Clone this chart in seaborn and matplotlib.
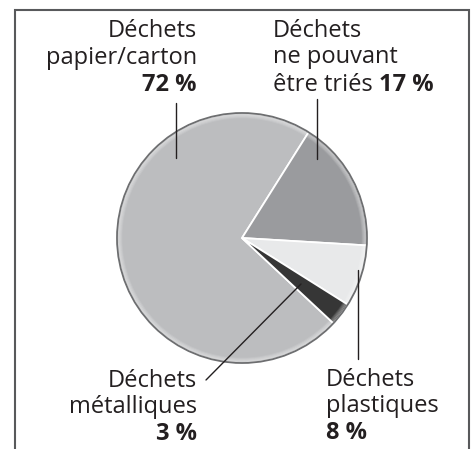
import matplotlib
matplotlib.use("Agg")
import matplotlib.pyplot as plt
from matplotlib.patches import Circle
import seaborn as sns

# data
categories = ["papier/carton", "ne pouvant être triés", "plastiques", "métalliques"]
shares = [72, 17, 8, 3]
slice_colors = ["#bcbdbf", "#9a9b9e", "#e8e9ea", "#363636"]

sns.set_theme(style="white")
plt.rcParams["font.family"] = ["Open Sans", "DejaVu Sans"]

W, H = 474, 449
fig = plt.figure(figsize=(W / 100, H / 100), dpi=100)
ax = fig.add_axes([0, 0, 1, 1])


def Y(y):
    # pixel rows measured from top -> data y
    return H - y


cx, cy, r = 242, Y(238), 125
ax.pie(shares, colors=slice_colors, startangle=317, counterclock=False,
       center=(cx, cy), radius=r,
       wedgeprops=dict(edgecolor="white", linewidth=1.3))

# soft bevel around the rim
for k, a in enumerate([0.10, 0.16, 0.22, 0.28]):
    ax.add_patch(Circle((cx, cy), r - 4.5 + k, fill=False, edgecolor="white",
                        lw=1.2, alpha=a))
ax.add_patch(Circle((cx, cy), r, fill=False, edgecolor="#6d6e70", lw=1.3))

# frame (open at the bottom)
ax.plot([15, 15, 469, 469], [Y(449), Y(10), Y(10), Y(449)],
        color="#58595b", lw=1.5, solid_joinstyle="miter")

ink = "#231f20"
fs = 17

# labels
ax.text(197, Y(37), "Déchets", ha="right", va="baseline", fontsize=fs, color=ink)
ax.text(197, Y(64), "papier/carton", ha="right", va="baseline", fontsize=fs, color=ink)
ax.text(197, Y(91), f"{shares[0]} %", ha="right", va="baseline", fontsize=fs,
        color=ink, fontweight="bold")

ax.text(273, Y(37), "Déchets", ha="left", va="baseline", fontsize=fs, color=ink)
ax.text(273, Y(63), "ne pouvant", ha="left", va="baseline", fontsize=fs, color=ink)
t = ax.text(273, Y(91), "être triés ", ha="left", va="baseline", fontsize=fs, color=ink)
ax.annotate(f"{shares[1]} %", xy=(1, 0), xycoords=t, ha="left", va="bottom",
            fontsize=fs, color=ink, fontweight="bold")

ax.text(326, Y(386), "Déchets", ha="left", va="baseline", fontsize=fs, color=ink)
ax.text(326, Y(412), "plastiques", ha="left", va="baseline", fontsize=fs, color=ink)
ax.text(326, Y(439), f"{shares[2]} %", ha="left", va="baseline", fontsize=fs,
        color=ink, fontweight="bold")

ax.text(197, Y(387), "Déchets", ha="right", va="baseline", fontsize=fs, color=ink)
ax.text(197, Y(413), "métalliques", ha="right", va="baseline", fontsize=fs, color=ink)
ax.text(197, Y(440), f"{shares[3]} %", ha="right", va="baseline", fontsize=fs,
        color=ink, fontweight="bold")

# leader lines
lk = dict(color=ink, lw=1.0)
ax.plot([176, 176], [Y(103), Y(158)], **lk)
ax.plot([317, 317], [Y(99), Y(159)], **lk)
ax.plot([358, 358], [Y(270), Y(359)], **lk)
ax.plot([301, 206], [Y(284), Y(380)], **lk)

ax.set_xlim(0, W)
ax.set_ylim(0, H)
ax.set_aspect("auto")
ax.axis("off")

fig.savefig("out.png", dpi=100, facecolor="white")
